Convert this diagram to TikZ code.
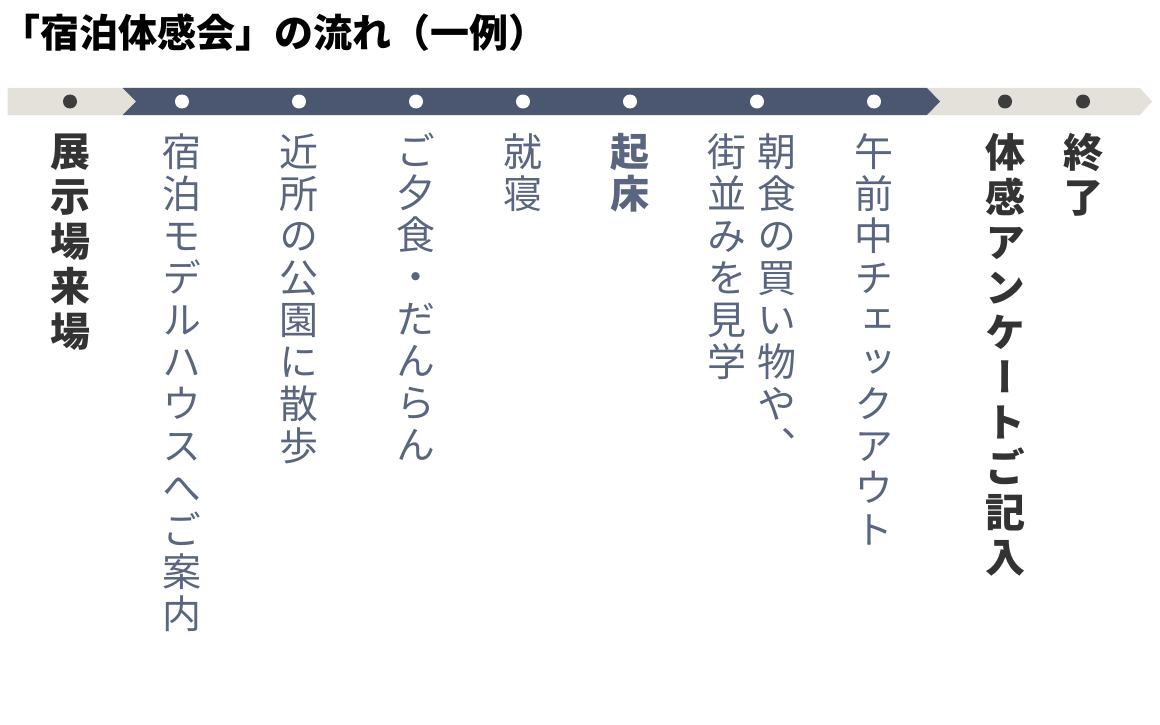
\documentclass[tikz,border=0pt]{standalone}
\usepackage{fontspec}
\usepackage{tikz}
\usetikzlibrary{positioning}
\newfontfamily\jptate[RawFeature=+vert]{Noto Sans CJK JP}
\newfontfamily\jptitle{Noto Sans CJK JP}
\definecolor{bandlight}{HTML}{E4E1DA}
\definecolor{banddark}{HTML}{4B5770}
\definecolor{dotgray}{HTML}{3D3D3D}
\definecolor{slate}{HTML}{5A6580}
\definecolor{textdark}{HTML}{333333}
\tikzstyle{darkdot} = [circle, fill=dotgray, minimum size=14pt, inner sep=0pt]
\tikzstyle{whitedot} = [circle, fill=white, minimum size=14pt, inner sep=0pt]
\tikzstyle{plan} = [inner sep=0pt, align=center, text=slate, font=\jptate\fontsize{39}{42}\selectfont]
\tikzstyle{planbold} = [inner sep=0pt, align=center, text=textdark, font=\jptate\bfseries\fontsize{40}{45}\selectfont]

\begin{document}
\begin{tikzpicture}[x=1pt, y=1pt]
\useasboundingbox (0,0) rectangle (1160,-725);
\node (title) [anchor=base west, font=\jptitle\bfseries\fontsize{39}{42}\selectfont] at (-2,-48) {「宿泊体感会」の流れ（一例）};

% band
\fill[bandlight] (7.5,-88) -- (1140,-88) -- (1152,-101.5) -- (1140,-115) -- (7.5,-115) -- cycle;
\fill[banddark] (122.5,-88) -- (927,-88) -- (940,-101.5) -- (927,-115) -- (122.5,-115) -- (136,-101.5) -- cycle;
\foreach \x/\n in {70/1, 1005/9, 1083/10}
  \node (d\n) [darkdot] at (\x,-101.5) {};
\foreach \x/\n in {182/2, 299/3, 416/4, 523/5, 630/6, 757/7, 874/8}
  \node (d\n) [whitedot] at (\x,-101.5) {};

% steps
\node (s1) [planbold, below=24.5pt of d1] {展\\示\\場\\来\\場};
\node (s2) [plan, below=24.5pt of d2] {宿\\泊\\モ\\デ\\ル\\ハ\\ウ\\ス\\へ\\ご\\案\\内};
\node (s3) [plan, below=24.5pt of d3] {近\\所\\の\\公\\園\\に\\散\\歩};
\node (s4) [plan, below=24.5pt of d4] {ご\\夕\\食\\・\\だ\\ん\\ら\\ん};
\node (s5) [plan, below=24.5pt of d5] {就\\寝};
\node (s6) [plan, below=24.5pt of d6, font=\jptate\bfseries\fontsize{39}{42}\selectfont] {起\\床};
\node (s7r) [plan, below=24.5pt of d7, xshift=20pt] {朝\\食\\の\\買\\い\\物\\や\\、};
\node (s7l) [plan, below=24.5pt of d7, xshift=-30pt] {街\\並\\み\\を\\見\\学};
\node (s8) [plan, below=24.5pt of d8] {午\\前\\中\\チ\\ェ\\ッ\\ク\\ア\\ウ\\ト};
\node (s9) [planbold, below=24.5pt of d9] {体\\感\\ア\\ン\\ケ\\ー\\ト\\ご\\記\\入};
\node (s10) [planbold, below=24.5pt of d10] {終\\了};
\end{tikzpicture}
\end{document}
